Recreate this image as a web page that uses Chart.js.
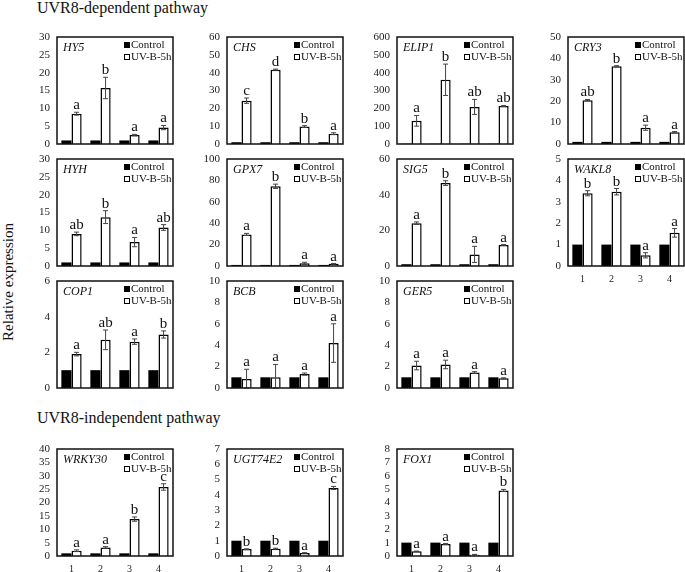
<!DOCTYPE html>
<html>
<head>
<meta charset="utf-8">
<script src="https://cdn.jsdelivr.net/npm/chart.js@4.4.0/dist/chart.umd.min.js"></script>
<style>
html, body { margin: 0; padding: 0; background: #fff; overflow: hidden; }
body { width: 685px; height: 572px; position: relative; font-family: "Liberation Serif", "DejaVu Serif", serif; color: #111; }
.title { position: absolute; font-size: 16px; white-space: nowrap; line-height: 16px; }
.panel { position: absolute; }
#ylab { position: absolute; left: -72px; top: 273px; width: 160px; text-align: center; font-size: 15px; line-height: 18px; transform: rotate(-90deg); white-space: nowrap; }
</style>
</head>
<body>
<div class="title" style="left:37px;top:0px;">UVR8-dependent pathway</div>
<div class="title" style="left:37px;top:410px;">UVR8-independent pathway</div>
<div id="ylab">Relative expression</div>
<script>
// x categories and control level (normalised to 1)
const groups = ['1', '2', '3', '4'];
const control = [1, 1, 1, 1];

// UV-B-5h means, error bars and significance letters, per gene
const hy5UV = [8.5, 15.7, 2.5, 4.6];     const hy5Err = [0.4, 3.0, 0.2, 0.6];     const hy5Sig = ['a', 'b', 'a', 'a'];
const chsUV = [24.3, 41.7, 9.8, 5.8];    const chsErr = [1.5, 0.3, 0.5, 0.5];     const chsSig = ['c', 'd', 'b', 'a'];
const elip1UV = [130, 360, 208, 213];    const elip1Err = [30, 88, 42, 3];        const elip1Sig = ['a', 'b', 'ab', 'ab'];
const cry3UV = [20.5, 36.3, 7.6, 5.5];   const cry3Err = [0.3, 0.3, 1.2, 0.3];    const cry3Sig = ['ab', 'b', 'a', 'a'];
const hyhUV = [9.0, 13.7, 6.7, 10.8];    const hyhErr = [0.5, 1.8, 1.3, 0.8];     const hyhSig = ['ab', 'b', 'a', 'ab'];
const gpx7UV = [29.5, 74.5, 2.5, 2.0];   const gpx7Err = [1.0, 2.0, 1.0, 0.3];    const gpx7Sig = ['a', 'b', 'a', 'a'];
const sig5UV = [24.0, 46.5, 6.5, 11.8];  const sig5Err = [0.7, 1.3, 4.5, 0.2];    const sig5Sig = ['a', 'b', 'a', 'a'];
const wakl8UV = [3.4, 3.47, 0.5, 1.55];  const wakl8Err = [0.12, 0.15, 0.12, 0.2]; const wakl8Sig = ['b', 'b', 'a', 'a'];
const cop1UV = [1.9, 2.7, 2.6, 3.0];     const cop1Err = [0.1, 0.55, 0.15, 0.2];  const cop1Sig = ['a', 'ab', 'a', 'b'];
const bcbUV = [0.85, 1.0, 1.3, 4.2];     const bcbErr = [0.9, 1.2, 0.1, 1.8];     const bcbSig = ['a', 'a', 'a', 'a'];
const ger5UV = [2.1, 2.2, 1.45, 0.9];    const ger5Err = [0.4, 0.4, 0.08, 0.05];  const ger5Sig = ['a', 'a', 'a', 'a'];
const wrky30UV = [2.0, 3.2, 13.8, 25.8]; const wrky30Err = [0.3, 0.3, 0.8, 1.2];  const wrky30Sig = ['a', 'a', 'b', 'c'];
const ugtUV = [0.45, 0.48, 0.2, 4.45];   const ugtErr = [0.02, 0.03, 0.02, 0.1];  const ugtSig = ['b', 'b', 'a', 'c'];
const fox1UV = [0.35, 0.9, 0.1, 4.9];    const fox1Err = [0.02, 0.03, 0.02, 0.08]; const fox1Sig = ['a', 'a', 'a', 'b'];

const geneNames = ['HY5', 'CHS', 'ELIP1', 'CRY3', 'HYH', 'GPX7', 'SIG5', 'WAKL8', 'COP1', 'BCB', 'GER5', 'WRKY30', 'UGT74E2', 'FOX1'];
const uvSeries = [hy5UV, chsUV, elip1UV, cry3UV, hyhUV, gpx7UV, sig5UV, wakl8UV, cop1UV, bcbUV, ger5UV, wrky30UV, ugtUV, fox1UV];
const errSeries = [hy5Err, chsErr, elip1Err, cry3Err, hyhErr, gpx7Err, sig5Err, wakl8Err, cop1Err, bcbErr, ger5Err, wrky30Err, ugtErr, fox1Err];
const sigSeries = [hy5Sig, chsSig, elip1Sig, cry3Sig, hyhSig, gpx7Sig, sig5Sig, wakl8Sig, cop1Sig, bcbSig, ger5Sig, wrky30Sig, ugtSig, fox1Sig];

// y-axis ticks
const yMax = [30, 60, 600, 50, 30, 100, 60, 5, 6, 10, 10, 40, 7, 8];
const yStep = [5, 10, 100, 10, 5, 20, 20, 1, 2, 2, 2, 5, 1, 1];
const showX = [false, false, false, false, false, false, false, true, false, false, false, true, true, true];

// layout: plot box corners
const colX = [57, 227, 397, 568];
const rowY = [37, 159, 281, 449];
const cell = [[0,0],[1,0],[2,0],[3,0],[0,1],[1,1],[2,1],[3,1],[0,2],[1,2],[2,2],[0,3],[1,3],[2,3]];
const BOX_W = 116, BOX_H = 107, AXIS_W = 40, PAD_L = 4, PAD_T = 14, X_H = 20, PAD_B = 2, PAD_R = 4;
const SERIF = '"Liberation Serif", "DejaVu Serif", serif';

const decor = {
    id: 'decor',
    afterDatasetsDraw(chart, args, opts) {
        const ctx = chart.ctx;
        const a = chart.chartArea;
        const y = chart.scales.y;
        const meta = chart.getDatasetMeta(1);
        ctx.save();
        // error bars + letters
        meta.data.forEach((bar, i) => {
            const v = opts.uv[i], e = opts.err[i];
            const yt = y.getPixelForValue(v + e);
            const yb = y.getPixelForValue(Math.max(v - e, 0));
            ctx.strokeStyle = '#444';
            ctx.lineWidth = 1;
            ctx.beginPath();
            ctx.moveTo(bar.x, yt); ctx.lineTo(bar.x, yb);
            ctx.moveTo(bar.x - 2.5, yt); ctx.lineTo(bar.x + 2.5, yt);
            ctx.moveTo(bar.x - 2.5, yb); ctx.lineTo(bar.x + 2.5, yb);
            ctx.stroke();
            ctx.fillStyle = '#111';
            ctx.font = '15px ' + SERIF;
            ctx.textAlign = 'center';
            ctx.textBaseline = 'alphabetic';
            ctx.fillText(opts.sig[i], bar.x, Math.min(yt, y.getPixelForValue(v)) - 3);
        });
        // box
        ctx.strokeStyle = '#111';
        ctx.lineWidth = 1.5;
        ctx.strokeRect(a.left, a.top, a.right - a.left, a.bottom - a.top);
        // gene name
        ctx.fillStyle = '#111';
        ctx.font = 'italic 12px ' + SERIF;
        ctx.textAlign = 'left';
        ctx.fillText(opts.name, a.left + 6, a.top + 14);
        // legend
        const lx = a.right - 49;
        ctx.font = '11px ' + SERIF;
        ctx.textBaseline = 'middle';
        ctx.fillStyle = '#000';
        ctx.fillRect(lx, a.top + 5, 6, 6);
        ctx.fillStyle = '#111';
        ctx.fillText(chart.data.datasets[0].label, lx + 7, a.top + 8.5);
        ctx.fillStyle = '#fff';
        ctx.fillRect(lx, a.top + 17, 6, 6);
        ctx.strokeStyle = '#000';
        ctx.lineWidth = 1;
        ctx.strokeRect(lx + 0.5, a.top + 17.5, 5, 5);
        ctx.fillStyle = '#111';
        ctx.fillText(chart.data.datasets[1].label, lx + 7, a.top + 20.5);
        ctx.restore();
    }
};

geneNames.forEach((name, k) => {
    const canvas = document.createElement('canvas');
    const w = PAD_L + AXIS_W + BOX_W + PAD_R, h = PAD_T + BOX_H + X_H + PAD_B;
    canvas.width = w; canvas.height = h;
    canvas.className = 'panel';
    canvas.style.left = (colX[cell[k][0]] - PAD_L - AXIS_W) + 'px';
    canvas.style.top = (rowY[cell[k][1]] - PAD_T) + 'px';
    canvas.style.width = w + 'px'; canvas.style.height = h + 'px';
    document.body.appendChild(canvas);

    new Chart(canvas, {
        type: 'bar',
        data: {
            labels: groups,
            datasets: [{
                label: 'Control',
                data: control,
                backgroundColor: '#000',
                borderWidth: 0,
                categoryPercentage: 0.7,
                barPercentage: 1.0,
            }, {
                label: 'UV-B-5h',
                data: uvSeries[k],
                backgroundColor: '#fff',
                borderColor: '#000',
                borderWidth: 1.5,
                categoryPercentage: 0.7,
                barPercentage: 1.0,
            }],
        },
        options: {
            responsive: false,
            animation: false,
            layout: { padding: { left: PAD_L, right: PAD_R, top: PAD_T, bottom: PAD_B } },
            plugins: {
                legend: { display: false },
                tooltip: { enabled: false },
                decor: { name: name, uv: uvSeries[k], err: errSeries[k], sig: sigSeries[k] },
            },
            scales: {
                x: {
                    grid: { display: false, drawTicks: false },
                    border: { display: false },
                    ticks: { display: showX[k], padding: 7, color: '#222', font: { family: SERIF, size: 10 } },
                    afterFit: (s) => { s.height = X_H; },
                },
                y: {
                    min: 0,
                    max: yMax[k],
                    grid: { display: false, drawTicks: false },
                    border: { display: false },
                    ticks: { stepSize: yStep[k], autoSkip: false, padding: 7, color: '#222', font: { family: SERIF, size: 11 } },
                    afterBuildTicks: (s) => {
                        const t = [];
                        for (let v = 0; v <= yMax[k] + 1e-9; v += yStep[k]) t.push({ value: v });
                        s.ticks = t;
                    },
                    afterFit: (s) => { s.width = AXIS_W; },
                },
            },
        },
        plugins: [decor],
    });
});
</script>
</body>
</html>
